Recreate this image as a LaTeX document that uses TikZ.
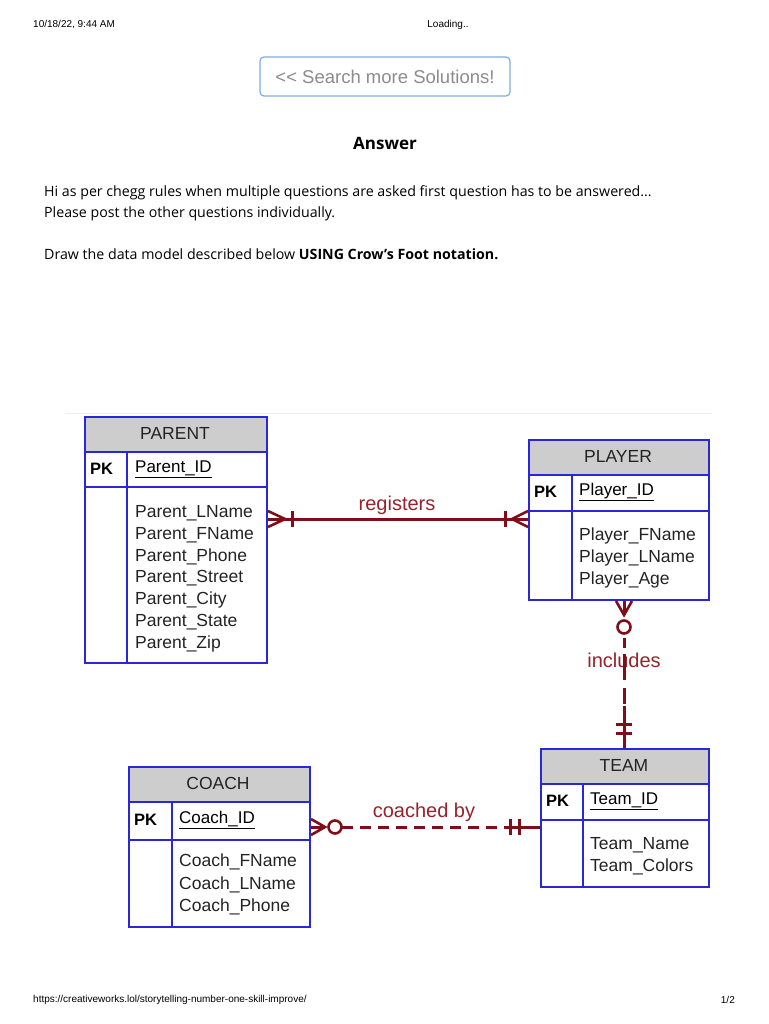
\documentclass[tikz,border=0pt]{standalone}
\usepackage{fontspec}
\setmainfont{Liberation Sans}
\newfontfamily\bodyfont{Open Sans}
\usetikzlibrary{calc}
\definecolor{eblue}{RGB}{40,40,218}
\definecolor{hgray}{RGB}{205,205,205}
\definecolor{rred}{RGB}{128,14,24}
\definecolor{lred}{RGB}{150,35,45}
\definecolor{sblue}{RGB}{125,175,225}
\definecolor{tgray}{RGB}{35,35,35}
\tikzset{
  eline/.style={draw=eblue, line width=2pt},
  ent/.style={draw=eblue, line width=2pt, inner sep=0pt, anchor=north west},
  ttl/.style={font=\fontsize{17.5}{20}\selectfont, text=tgray, inner sep=0pt},
  pk/.style={font=\fontsize{16.5}{20}\selectfont\bfseries, text=black, inner sep=0pt, anchor=west},
  keyt/.style={font=\fontsize{17}{20}\selectfont, text=black, inner sep=0pt, anchor=west},
  attr/.style={font=\fontsize{17.5}{20}\selectfont, text=tgray, inner sep=0pt, anchor=west},
  rel/.style={draw=rred, line width=3pt},
  reld/.style={draw=rred, line width=3pt, dash pattern=on 11pt off 7pt},
  relthin/.style={draw=rred, line width=2.6pt},
  rlabel/.style={font=\fontsize{20}{24}\selectfont, text=lred, inner sep=0pt},
  small/.style={font=\fontsize{10}{12}\selectfont, text=black, inner sep=0pt},
  body/.style={font=\bodyfont\fontsize{14.2}{17}\selectfont, text=black, inner sep=0pt, anchor=west},
}
\begin{document}
\begin{tikzpicture}[x=1pt,y=-1pt]
\useasboundingbox[fill=white] (0,0) rectangle (768,1024);

% page header
\node[small, anchor=west] (date) at (33,25) {10/18/22, 9:44 AM};
\node[small] (loading) at (448,25) {Loading..};
\node[draw=sblue, line width=1.2pt, rounded corners=4pt, minimum width=250pt, minimum height=39pt, inner sep=0pt,
      font=\fontsize{18.5}{22}\selectfont, text=black!45] (search) at (385,76.5) {{<}{<} Search more Solutions!};
\node[font=\bodyfont\fontsize{17}{20}\selectfont\bfseries, inner sep=0pt] (answer) at (385,143) {Answer};
\node[body] (l1) at (44,193) {Hi as per chegg rules when multiple questions are asked first question has to be answered...};
\node[body] (l2) at (44,214) {Please post the other questions individually.};
\node[body] (l3) at (44,254) {Draw the data model described below \textbf{USING Crow’s Foot notation.}};

% faint top edge of the diagram image
\draw[black!7, line width=1pt] (65,413) -- (712,413);

% ---------- PARENT ----------
\fill[hgray] (84,416) rectangle (266,452);
\node[ent, minimum width=182pt, minimum height=246pt] (parent) at (84,416) {};
\draw[eline] (84,452) -- (266,452) (84,487) -- (266,487) (127,452) -- (127,662);
\node[ttl] (parentT) at (175,433) {PARENT};
\node[pk] (parentPK) at (90,469) {PK};
\node[keyt] (parentID) at (135,469) {\underline{Parent\_ID}};
\node[attr] (pa1) at (135,513) {Parent\_LName};
\node[attr] (pa2) at (135,535) {Parent\_FName};
\node[attr] (pa3) at (135,557) {Parent\_Phone};
\node[attr] (pa4) at (135,578) {Parent\_Street};
\node[attr] (pa5) at (135,600) {Parent\_City};
\node[attr] (pa6) at (135,622) {Parent\_State};
\node[attr] (pa7) at (135,644) {Parent\_Zip};

% ---------- PLAYER ----------
\fill[hgray] (528,439) rectangle (708,475);
\node[ent, minimum width=180pt, minimum height=160pt] (player) at (528,439) {};
\draw[eline] (528,475) -- (708,475) (528,511) -- (708,511) (572,475) -- (572,599);
\node[ttl] (playerT) at (618,456) {PLAYER};
\node[pk] (playerPK) at (534,492) {PK};
\node[keyt] (playerID) at (579,492) {\underline{Player\_ID}};
\node[attr] (pl1) at (579,536) {Player\_FName};
\node[attr] (pl2) at (579,558) {Player\_LName};
\node[attr] (pl3) at (579,580) {Player\_Age};

% ---------- TEAM ----------
\fill[hgray] (540,748) rectangle (708,784);
\node[ent, minimum width=168pt, minimum height=138pt] (team) at (540,748) {};
\draw[eline] (540,784) -- (708,784) (540,820) -- (708,820) (583,784) -- (583,886);
\node[ttl] (teamT) at (624,765) {TEAM};
\node[pk] (teamPK) at (546,801) {PK};
\node[keyt] (teamID) at (590,801) {\underline{Team\_ID}};
\node[attr] (te1) at (590,845) {Team\_Name};
\node[attr] (te2) at (590,867) {Team\_Colors};

% ---------- COACH ----------
\fill[hgray] (128,766) rectangle (309,802);
\node[ent, minimum width=181pt, minimum height=160pt] (coach) at (128,766) {};
\draw[eline] (128,802) -- (309,802) (128,840) -- (309,840) (172,802) -- (172,926);
\node[ttl] (coachT) at (218,783) {COACH};
\node[pk] (coachPK) at (134,820) {PK};
\node[keyt] (coachID) at (179,820) {\underline{Coach\_ID}};
\node[attr] (co1) at (179,862) {Coach\_FName};
\node[attr] (co2) at (179,885) {Coach\_LName};
\node[attr] (co3) at (179,907) {Coach\_Phone};

% ---------- registers ----------
\coordinate (regA) at ($(parent.north east)+(0,103)$);
\coordinate (regB) at ($(player.north west)+(0,80)$);
\draw[rel] (regA) -- (regB);
\draw[relthin] ($(regA)+(0,-8)$) -- ($(regA)+(17,0)$) -- ($(regA)+(0,8)$);
\draw[rel] ($(regA)+(24,-8)$) -- ($(regA)+(24,8)$);
\draw[relthin] ($(regB)+(0,-8)$) -- ($(regB)+(-16,0)$) -- ($(regB)+(0,8)$);
\draw[rel] ($(regB)+(-23,-8)$) -- ($(regB)+(-23,8)$);
\node[rlabel] (regL) at (397,505) {registers};

% ---------- includes ----------
\coordinate (incA) at ($(player.south west)+(96,0)$);
\coordinate (incB) at ($(team.north west)+(84,0)$);
\node[rlabel] (incL) at (624,660) {includes};
\draw[relthin] ($(incA)+(-8,0)$) -- ($(incA)+(0,14)$) -- ($(incA)+(8,0)$);
\draw[rel] (incA) -- ($(incA)+(0,14)$);
\draw[rred, line width=2.6pt] ($(incA)+(0,26)$) circle (6.5pt);
\draw[reld, dash pattern=on 10pt off 6pt on 26pt off 8pt on 16pt off 6pt] ($(incA)+(0,37)$) -- ($(incB)+(0,-42)$);
\draw[rel] ($(incB)+(0,-42)$) -- (incB);
\draw[rel] ($(incB)+(-8,-24)$) -- ($(incB)+(8,-24)$);
\draw[rel] ($(incB)+(-8,-15)$) -- ($(incB)+(8,-15)$);

% ---------- coached by ----------
\coordinate (coA) at ($(coach.north east)+(0,61)$);
\coordinate (coB) at ($(team.north west)+(0,79)$);
\node[rlabel] (coL) at (424,812) {coached by};
\draw[relthin] ($(coA)+(0,-8)$) -- ($(coA)+(14,0)$) -- ($(coA)+(0,8)$);
\draw[rel] (coA) -- ($(coA)+(14,0)$);
\draw[rred, line width=2.6pt] ($(coA)+(24,0)$) circle (6.5pt);
\draw[reld] ($(coA)+(31,0)$) -- ($(coB)+(-36,0)$);
\draw[rel] ($(coB)+(-36,0)$) -- (coB);
\draw[rel] ($(coB)+(-30,-8)$) -- ($(coB)+(-30,8)$);
\draw[rel] ($(coB)+(-21,-8)$) -- ($(coB)+(-21,8)$);

% page footer
\node[small, anchor=west] (url) at (33,1000) {https://creativeworks.lol/storytelling-number-one-skill-improve/};
\node[small, anchor=east] (page) at (735,1000) {1/2};
\end{tikzpicture}
\end{document}
